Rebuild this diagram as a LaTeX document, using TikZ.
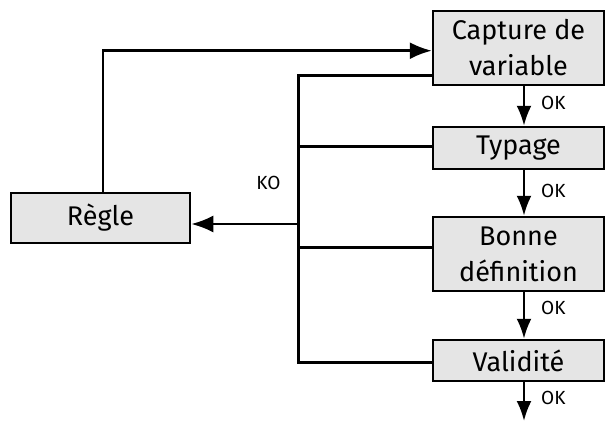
\documentclass[tikz,border=0pt]{standalone}
\usepackage{fontspec}
\setmainfont{Fira Sans}
\usetikzlibrary{arrows.meta}
\begin{document}
\begin{tikzpicture}[x=1pt,y=-1pt,
  box/.style={draw=black, line width=2.5pt, fill=gray!20, align=center, inner sep=0pt,
    font=\fontsize{27}{36}\selectfont},
  conn/.style={line width=2.5pt},
  arr/.style={conn, -{Latex[length=22pt,width=17pt]}},
  varr/.style={conn, -{Latex[length=20pt,width=15pt]}},
  lbl/.style={font=\fontsize{19}{22}\selectfont, inner sep=0pt}]
\useasboundingbox (0,0) rectangle (605,421);
\node[box, minimum width=171, minimum height=74] (cap) at (518.5,48) {Capture de\\variable};
\node[box, minimum width=171, minimum height=42] (typ) at (518.5,148) {Typage};
\node[box, minimum width=171, minimum height=74] (bon) at (518.5,254) {Bonne\\définition};
\node[box, minimum width=171, minimum height=41] (val) at (518.5,360.5) {Validité};
\node[box, minimum width=179, minimum height=50] (reg) at (100.5,218) {Règle};
\coordinate (b1) at (298.5,75.7);
\coordinate (b2) at (298.5,146.7);
\coordinate (bm) at (298.5,224);
\coordinate (b3) at (298.5,247.7);
\coordinate (b4) at (298.5,362.7);
\coordinate (top) at (103,50.7);
\coordinate (end) at (524,421);
% feedback arrow
\draw[arr] (reg.north -| top) -- (top) -- (cap.west |- top);
% KO bus
\draw[conn] (cap.west |- b1) -- (b1) -- (b4) -- (val.west |- b4);
\draw[conn] (typ.west |- b2) -- (b2);
\draw[conn] (bon.west |- b3) -- (b3);
\draw[arr] (bm) -- (reg.east |- bm);
\node[lbl] (ko) at (268.5,183) {KO};
% OK arrows
\draw[varr] ([xshift=5.5]cap.south) -- ([xshift=5.5]typ.north);
\draw[varr] ([xshift=5.5]typ.south) -- ([xshift=5.5]bon.north);
\draw[varr] ([xshift=5.5]bon.south) -- ([xshift=5.5]val.north);
\draw[varr] ([xshift=5.5]val.south) -- (end);
\node[lbl, anchor=west] (ok1) at (541,102.7) {OK};
\node[lbl, anchor=west] (ok2) at (541,190.7) {OK};
\node[lbl, anchor=west] (ok3) at (541,308) {OK};
\node[lbl, anchor=west] (ok4) at (541,398) {OK};
\end{tikzpicture}
\end{document}
